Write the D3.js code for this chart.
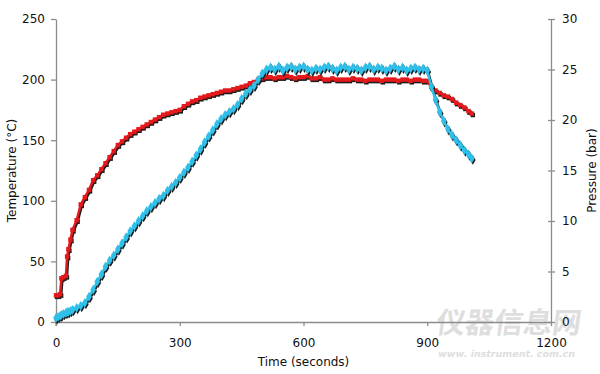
<!DOCTYPE html>
<html lang="en">
<head>
<meta charset="utf-8" />
<title>Temperature and Pressure</title>
<script src="https://cdn.jsdelivr.net/npm/d3@7"></script>
<style>
  body { margin: 0; background: #fff; }
  svg { display: block; font-family: "DejaVu Sans", Verdana, sans-serif; }
</style>
</head>
<body>
<svg id="chart" width="600" height="374" viewBox="0 0 600 374"></svg>
<script>
// time in seconds (shared by both series)
const times = [0, 5, 10, 13, 18, 24, 27, 30, 35, 40,
  50, 60, 70, 80, 90, 100, 110, 120, 130, 140,
  150, 160, 170, 180, 190, 200, 210, 220, 230, 240,
  250, 260, 270, 280, 290, 300, 310, 320, 330, 340,
  350, 360, 370, 380, 390, 400, 410, 420, 430, 440,
  450, 460, 470, 480, 490, 500, 510, 520, 530, 540,
  550, 560, 570, 580, 590, 600, 610, 620, 630, 640,
  650, 660, 670, 680, 690, 700, 710, 720, 730, 740,
  750, 760, 770, 780, 790, 800, 810, 820, 830, 840,
  850, 860, 870, 880, 890, 900, 910, 920, 930, 940,
  950, 960, 970, 980, 990, 1000, 1008];

// temperature (°C), left axis
const temperature = [22, 22, 23, 36, 37, 38, 54, 60, 68, 76,
  84, 97, 103, 109, 117, 121, 126, 131, 136, 141,
  146, 149, 152, 155, 157, 159, 161, 163, 165, 167,
  169, 171, 172, 173, 174, 175, 178, 180, 182, 183,
  185, 186, 187, 188, 189, 190, 191, 191, 192, 193,
  194, 195, 197, 198, 200, 201, 202, 202, 201, 202,
  202, 203, 202, 201, 202, 202, 203, 201, 201, 202,
  200, 200, 201, 200, 200, 200, 200, 201, 200, 200,
  199, 200, 200, 200, 199, 200, 200, 200, 199, 200,
  200, 199, 200, 200, 199, 199, 194, 191, 189, 187,
  186, 184, 181, 179, 177, 174, 172];

// pressure (bar), right axis
const pressure = [0.4, 0.5, 0.6, 0.7, 0.8, 0.9, 1.0, 1.0, 1.1, 1.2,
  1.4, 1.6, 1.9, 2.5, 3.2, 4.0, 4.7, 5.5, 6.1, 6.6,
  7.2, 7.8, 8.4, 9.0, 9.5, 10.0, 10.5, 11.0, 11.4, 11.8,
  12.2, 12.5, 13.0, 13.4, 13.8, 14.3, 14.8, 15.3, 15.9, 16.5,
  17.1, 17.8, 18.4, 19.0, 19.6, 20.1, 20.5, 20.8, 21.1, 21.5,
  22.1, 22.6, 23.0, 23.4, 24.0, 24.6, 25.0, 25.2, 25.0, 25.3,
  24.9, 25.2, 25.3, 25.0, 25.2, 25.3, 25.0, 24.9, 25.1, 25.0,
  25.2, 25.3, 25.1, 24.9, 25.2, 25.3, 25.0, 25.2, 25.1, 24.9,
  25.2, 25.3, 25.0, 25.2, 25.1, 24.9, 25.1, 25.3, 25.0, 25.2,
  24.9, 25.1, 25.2, 25.0, 25.1, 24.9, 23.3, 22.0, 20.8, 19.9,
  19.1, 18.5, 18.0, 17.5, 17.0, 16.6, 16.2];

const xTicks = [0, 300, 600, 900, 1200];
const tempTicks = [0, 50, 100, 150, 200, 250];
const pressTicks = [0, 5, 10, 15, 20, 25, 30];

const svg = d3.select("#chart");
const margin = { top: 19, right: 49, bottom: 52, left: 56 };
const width = 600, height = 374;

const x = d3.scaleLinear().domain([0, 1200]).range([margin.left, width - margin.right]);
const yT = d3.scaleLinear().domain([0, 250]).range([height - margin.bottom, margin.top]);
const yP = d3.scaleLinear().domain([0, 30]).range([height - margin.bottom, margin.top]);

svg.append("rect").attr("width", width).attr("height", height).attr("fill", "#fff");

// watermark (behind everything)
const wm = svg.append("g").attr("fill", "#dedede");
wm.append("text")
  .attr("x", 435).attr("y", 333)
  .attr("font-family", "Noto Sans CJK SC")
  .attr("font-weight", "700")
  .attr("font-size", 29)
  .attr("transform", "skewX(-8)")
  .attr("transform-origin", "435 333")
  .text("仪器信息网");
wm.append("text")
  .attr("x", 438).attr("y", 357)
  .attr("font-size", 9.5)
  .attr("font-style", "italic")
  .attr("font-weight", "700")
  .text("www. instrument. com.cn");

// axes
const axisColor = "#8c8c8c";

const xAxis = svg.append("g")
  .attr("transform", `translate(0,${height - margin.bottom})`)
  .call(d3.axisBottom(x).tickValues(xTicks).tickFormat(d3.format("d"))
    .tickSize(4).tickSizeOuter(0).tickPadding(12));

const leftAxis = svg.append("g")
  .attr("transform", `translate(${margin.left},0)`)
  .call(d3.axisLeft(yT).tickValues(tempTicks).tickSize(5).tickSizeOuter(0).tickPadding(6));

const rightAxis = svg.append("g")
  .attr("transform", `translate(${width - margin.right},0)`)
  .call(d3.axisRight(yP).tickValues(pressTicks).tickSize(4).tickSizeOuter(0).tickPadding(7));
rightAxis.selectAll(".tick line").attr("x1", -3);

[xAxis, leftAxis, rightAxis].forEach(a => {
  a.select(".domain").attr("stroke", axisColor).attr("stroke-width", 1.3);
  a.selectAll(".tick line").attr("stroke", axisColor).attr("stroke-width", 1.3);
  a.selectAll("text")
    .attr("fill", "#111")
    .style("font-family", "DejaVu Sans")
    .style("font-size", "12px");
});

// the left axis line runs a bit below the x axis
svg.append("line")
  .attr("x1", margin.left).attr("x2", margin.left)
  .attr("y1", height - margin.bottom).attr("y2", height - margin.bottom + 4)
  .attr("stroke", axisColor).attr("stroke-width", 1.3);

// axis titles
svg.append("text")
  .attr("x", (margin.left + width - margin.right) / 2)
  .attr("y", 366)
  .attr("text-anchor", "middle")
  .attr("font-size", 12)
  .attr("fill", "#111")
  .text("Time (seconds)");

svg.append("text")
  .attr("transform", `translate(16,${(margin.top + height - margin.bottom) / 2}) rotate(-90)`)
  .attr("text-anchor", "middle")
  .attr("font-size", 12)
  .attr("fill", "#111")
  .text("Temperature (°C)");

svg.append("text")
  .attr("transform", `translate(596,${(margin.top + height - margin.bottom) / 2}) rotate(-90)`)
  .attr("text-anchor", "middle")
  .attr("font-size", 12)
  .attr("fill", "#111")
  .text("Pressure (bar)");

// series
const series = [
  { name: "Temperature", values: temperature, y: yT, color: "#e3191c", symbol: d3.symbolSquare, size: 20 },
  { name: "Pressure", values: pressure, y: yP, color: "#30bfe8", symbol: d3.symbolDiamond, size: 28 }
];

const plot = svg.append("g");

series.forEach(s => {
  const pts = times.map((t, i) => [x(t), s.y(s.values[i])]);
  const line = d3.line();
  const sym = d3.symbol().type(s.symbol).size(s.size);

  // dark drop shadow
  const shadow = plot.append("g").attr("transform", "translate(1,1.5)");
  shadow.append("path")
    .attr("d", line(pts))
    .attr("fill", "none")
    .attr("stroke", "#1b1b1b")
    .attr("stroke-width", 2.5);
  shadow.selectAll("path.m")
    .data(pts).enter().append("path")
    .attr("class", "m")
    .attr("d", sym)
    .attr("transform", d => `translate(${d[0]},${d[1]})`)
    .attr("fill", "#1b1b1b");

  const g = plot.append("g");
  g.append("path")
    .attr("d", line(pts))
    .attr("fill", "none")
    .attr("stroke", s.color)
    .attr("stroke-width", 2.5);
  g.selectAll("path.m")
    .data(pts).enter().append("path")
    .attr("class", "m")
    .attr("d", sym)
    .attr("transform", d => `translate(${d[0]},${d[1]})`)
    .attr("fill", s.color);
});
</script>
</body>
</html>
